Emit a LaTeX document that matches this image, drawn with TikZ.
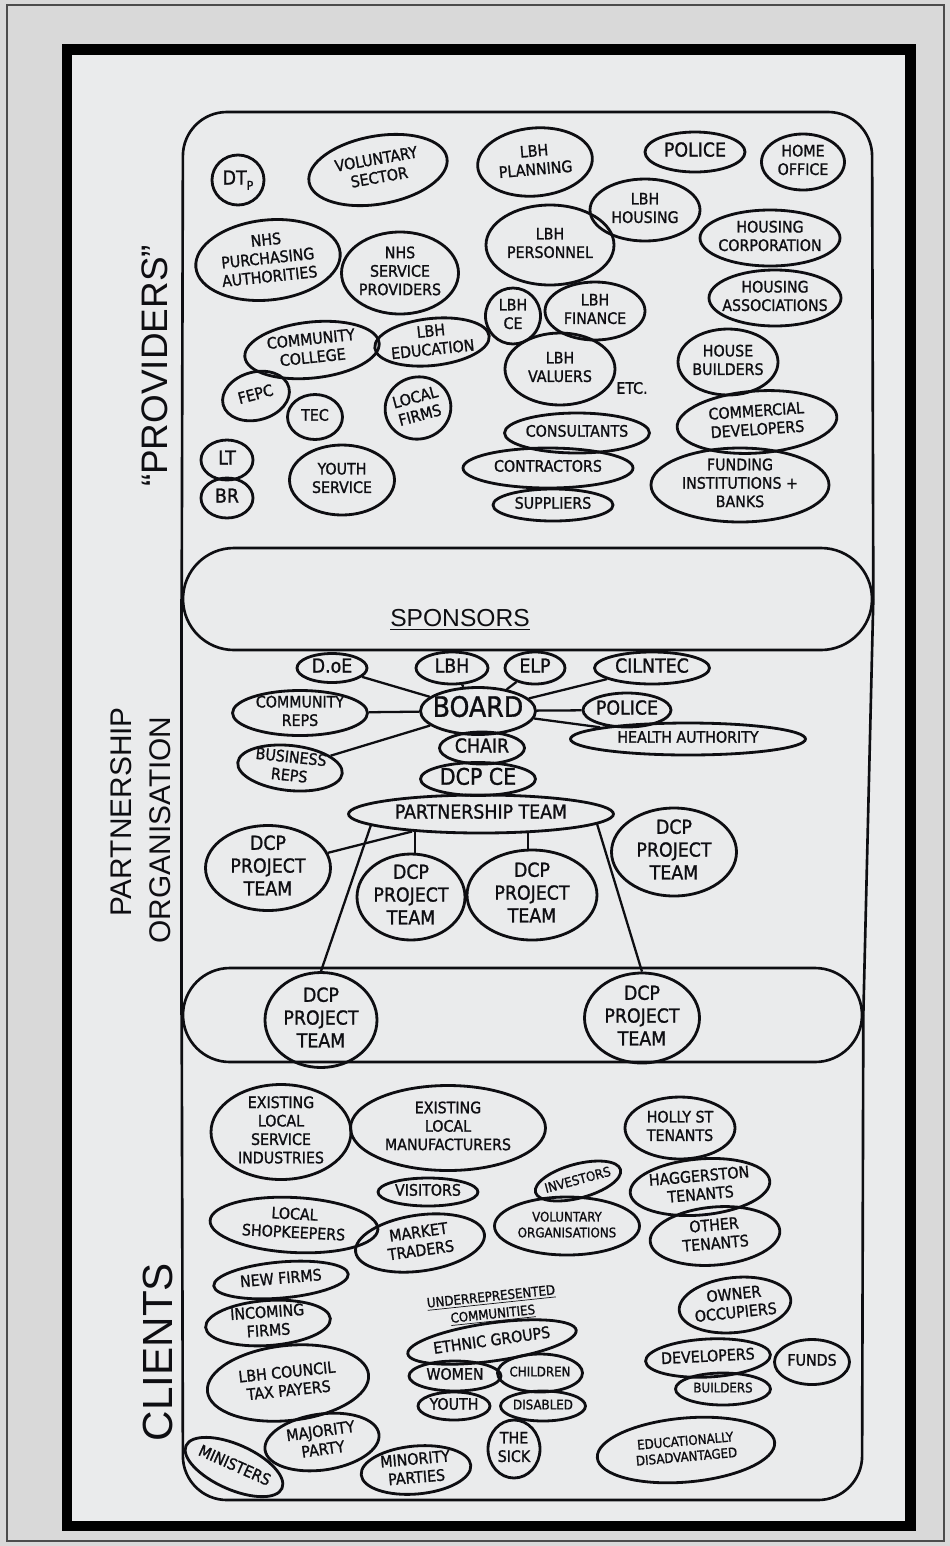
\documentclass[tikz,border=0pt]{standalone}
\usepackage{fontspec}
\setmainfont{Liberation Sans}
\newfontfamily\handfont[FakeBold=1.2]{DejaVu Sans Condensed}
\usetikzlibrary{shapes.geometric,shapes.misc}

\definecolor{paper}{RGB}{234,235,236}
\definecolor{mat}{RGB}{217,217,217}
\definecolor{ink}{RGB}{14,14,18}

% text that does not widen its bubble
\newcommand{\hand}[1]{\smash{\makebox[0pt]{\raisebox{-0.25em}{\begin{tabular}{@{}c@{}}#1\end{tabular}}}}}

\tikzset{
  bub/.style={ellipse, draw=ink, line width=1.6pt, inner sep=0pt, text=ink, font=\handfont\fontsize{9}{10.5}\selectfont},
  sz/.style 2 args={minimum width=#1*0.02cm, minimum height=#2*0.02cm},
  small/.style={font=\handfont\fontsize{7.5}{9}\selectfont},
  mid/.style={font=\handfont\fontsize{11}{13}\selectfont},
  link/.style={draw=ink, line width=1.3pt},
  outline/.style={draw=ink, line width=1.5pt},
  band/.style={rounded rectangle, draw=ink, line width=1.5pt, inner sep=0pt},
  side/.style={rotate=90, text=ink}
}

\begin{document}
\begin{tikzpicture}[x=0.02cm, y=-0.02cm]
\useasboundingbox (0,0) rectangle (950,1546);

% Passe-partout
\fill[mat] (0,0) rectangle (950,1546);
\draw[black!70, line width=0.6pt] (7,5) rectangle (944,1541);
\fill[paper] (67,50) rectangle (910,1526);
\draw[black, line width=6.2pt] (67,49.5) rectangle (910.5,1526);

% Bandas y contornos
\node[band, sz={689}{102}] (sponsors) at (527.5,599) {};
\node[band, sz={679}{94}] (projects) at (522.5,1015) {};
\draw[outline, rounded corners=25pt] (sponsors.west) -- (183,112) -- (872,112) -- (sponsors.east);
\draw[outline] (sponsors.west) -- (projects.west);
\draw[outline] (sponsors.east) -- (projects.east);
\draw[outline, rounded corners=25pt] (projects.west) -- (183,1500) -- (862,1500) -- (projects.east);

% Titulos laterales
\node[side, font=\fontsize{21}{24}\selectfont] (provl) at (155,366) {“PROVIDERS”};
\node[side, font=\fontsize{17}{20}\selectfont] (partl) at (121,812) {PARTNERSHIP};
\node[side, font=\fontsize{17}{20}\selectfont] (orgl) at (160,830) {ORGANISATION};
\node[side, font=\fontsize{24}{28}\selectfont] (clientl) at (158,1352) {CLIENTS};

% Providers
\node[bub, sz={52}{50}, mid] (dtp) at (238,180) {\hand{DT\raisebox{-0.5ex}{\scriptsize P}}};
\node[bub, sz={140}{68}, rotate=10] (volsec) at (378,170) {\hand{VOLUNTARY\\SECTOR}};
\node[bub, sz={115}{68}, rotate=5] (lbhplan) at (535,162) {\hand{LBH\\PLANNING}};
\node[bub, sz={100}{40}, mid] (police) at (695,152) {\hand{POLICE}};
\node[bub, sz={83}{56}] (homeoff) at (803,162) {\hand{HOME\\OFFICE}};
\node[bub, sz={110}{62}] (lbhhous) at (645,210) {\hand{LBH\\HOUSING}};
\node[bub, sz={145}{80}, rotate=6] (nhspa) at (268,260) {\hand{NHS\\PURCHASING\\AUTHORITIES}};
\node[bub, sz={117}{82}] (nhssp) at (400,273) {\hand{NHS\\SERVICE\\PROVIDERS}};
\node[bub, sz={128}{80}] (lbhpers) at (550,245) {\hand{LBH\\PERSONNEL}};
\node[bub, sz={140}{56}] (houscorp) at (770,238) {\hand{HOUSING\\CORPORATION}};
\node[bub, sz={132}{56}] (housass) at (775,298) {\hand{HOUSING\\ASSOCIATIONS}};
\node[bub, sz={55}{56}] (lbhce) at (513,316) {\hand{LBH\\CE}};
\node[bub, sz={100}{58}] (lbhfin) at (595,311) {\hand{LBH\\FINANCE}};
\node[bub, sz={135}{56}, rotate=6] (comcol) at (312,350) {\hand{COMMUNITY\\COLLEGE}};
\node[bub, sz={115}{47}, rotate=6] (lbhedu) at (432,342) {\hand{LBH\\EDUCATION}};
\node[bub, sz={110}{72}] (lbhval) at (560,369) {\hand{LBH\\VALUERS}};
\node[font=\handfont\fontsize{9}{10.5}\selectfont, text=ink] (etc) at (632,388) {ETC.};
\node[bub, sz={100}{66}] (housbuild) at (728,362) {\hand{HOUSE\\BUILDERS}};
\node[bub, sz={68}{48}, rotate=15] (fepc) at (256,396) {\hand{FEPC}};
\node[bub, sz={55}{45}] (tec) at (315,417) {\hand{TEC}};
\node[bub, sz={66}{62}, rotate=15] (locfirms) at (418,408) {\hand{LOCAL\\FIRMS}};
\node[bub, sz={145}{40}] (consult) at (577,433) {\hand{CONSULTANTS}};
\node[bub, sz={160}{62}, rotate=4] (comdev) at (757,422) {\hand{COMMERCIAL\\DEVELOPERS}};
\node[bub, sz={170}{40}] (contract) at (548,468) {\hand{CONTRACTORS}};
\node[bub, sz={178}{74}] (funding) at (740,485) {\hand{FUNDING\\INSTITUTIONS +\\BANKS}};
\node[bub, sz={120}{32}] (suppl) at (553,505) {\hand{SUPPLIERS}};
\node[bub, sz={52}{40}, mid] (lt) at (227,460) {\hand{LT}};
\node[bub, sz={52}{40}, mid] (br) at (227,498) {\hand{BR}};
\node[bub, sz={105}{70}] (youthserv) at (342,480) {\hand{YOUTH\\SERVICE}};

% Partnership
\node[font=\fontsize{14}{16}\selectfont, text=ink] (sponl) at (460,620) {\underline{SPONSORS}};
\node[bub, sz={70}{29}, mid] (doe) at (332,668) {\hand{D.oE}};
\node[bub, sz={72}{32}, mid] (lbh) at (452,668) {\hand{LBH}};
\node[bub, sz={60}{32}, mid] (elp) at (535,668) {\hand{ELP}};
\node[bub, sz={115}{32}, mid] (cilntec) at (652,668) {\hand{CILNTEC}};
\node[bub, sz={135}{45}] (comreps) at (300,713) {\hand{COMMUNITY\\REPS}};
\node[bub, sz={115}{47}, font=\handfont\fontsize{16}{18}\selectfont] (board) at (478,711) {\hand{BOARD}};
\node[bub, sz={88}{34}, mid] (police2) at (627,710) {\hand{POLICE}};
\node[bub, sz={235}{32}] (health) at (688,739) {\hand{HEALTH AUTHORITY}};
\node[bub, sz={85}{32}, mid] (chair) at (482,748) {\hand{CHAIR}};
\node[bub, sz={105}{45}, rotate=-6] (busreps) at (290,768) {\hand{BUSINESS\\REPS}};
\node[bub, sz={115}{33}, font=\handfont\fontsize{13}{15}\selectfont] (dcpce) at (478,779) {\hand{DCP CE}};
\node[bub, sz={265}{38}, mid] (pteam) at (481,814) {\hand{PARTNERSHIP TEAM}};
\node[bub, sz={125}{85}, mid] (dcpa) at (268,868) {\hand{DCP\\PROJECT\\TEAM}};
\node[bub, sz={125}{88}, mid] (dcpb) at (674,852) {\hand{DCP\\PROJECT\\TEAM}};
\node[bub, sz={108}{86}, mid] (dcpc) at (411,897) {\hand{DCP\\PROJECT\\TEAM}};
\node[bub, sz={130}{90}, mid] (dcpd) at (532,895) {\hand{DCP\\PROJECT\\TEAM}};
\node[bub, sz={112}{95}, mid] (dcpe) at (321,1020) {\hand{DCP\\PROJECT\\TEAM}};
\node[bub, sz={115}{90}, mid] (dcpf) at (642,1018) {\hand{DCP\\PROJECT\\TEAM}};

\foreach \n in {doe, lbh, elp, cilntec, comreps, busreps, police2, health}
  \draw[link] (board) -- (\n);
\draw[link] (pteam) -- (dcpa);
\draw[link] (pteam.195) -- (pteam.195 |- dcpc.north);
\draw[link] (pteam.338) -- (pteam.338 |- dcpd.north);
\draw[link] (pteam.186) -- (dcpe.north);
\draw[link] (pteam.355) -- (dcpf.north);

% Clients
\node[bub, sz={140}{95}] (exserv) at (281,1132) {\hand{EXISTING\\LOCAL\\SERVICE\\INDUSTRIES}};
\node[bub, sz={195}{85}] (exman) at (448,1128) {\hand{EXISTING\\LOCAL\\MANUFACTURERS}};
\node[bub, sz={110}{62}] (holly) at (680,1128) {\hand{HOLLY ST\\TENANTS}};
\node[bub, sz={88}{34}, rotate=15, small] (invest) at (578,1181) {\hand{INVESTORS}};
\node[bub, sz={140}{56}, rotate=5] (hagg) at (700,1187) {\hand{HAGGERSTON\\TENANTS}};
\node[bub, sz={100}{28}] (visit) at (428,1192) {\hand{VISITORS}};
\node[bub, sz={168}{55}, rotate=-3] (shopk) at (294,1225) {\hand{LOCAL\\SHOPKEEPERS}};
\node[bub, sz={145}{58}, small] (volorg) at (567,1226) {\hand{VOLUNTARY\\ORGANISATIONS}};
\node[bub, sz={130}{58}, rotate=5] (othert) at (715,1236) {\hand{OTHER\\TENANTS}};
\node[bub, sz={130}{56}, rotate=8] (market) at (420,1243) {\hand{MARKET\\TRADERS}};
\node[bub, sz={135}{36}, rotate=5] (newf) at (281,1280) {\hand{NEW FIRMS}};
\node[font=\handfont\fontsize{7.5}{10}\selectfont, text=ink, rotate=6] (underrep) at (492,1306) {\hand{\underline{UNDERREPRESENTED}\\\underline{COMMUNITIES}}};
\node[bub, sz={112}{55}, rotate=6] (owner) at (735,1305) {\hand{OWNER\\OCCUPIERS}};
\node[bub, sz={125}{45}, rotate=4] (incoming) at (268,1323) {\hand{INCOMING\\FIRMS}};
\node[bub, sz={170}{38}, rotate=8] (ethnic) at (492,1342) {\hand{ETHNIC GROUPS}};
\node[bub, sz={125}{38}, rotate=3] (devs) at (708,1358) {\hand{DEVELOPERS}};
\node[bub, sz={75}{45}] (funds) at (812,1362) {\hand{FUNDS}};
\node[bub, sz={92}{30}] (women) at (455,1376) {\hand{WOMEN}};
\node[bub, sz={85}{38}, small] (child) at (540,1373) {\hand{CHILDREN}};
\node[bub, sz={95}{32}, small] (builders) at (723,1389) {\hand{BUILDERS}};
\node[bub, sz={162}{75}, rotate=6] (taxpay) at (288,1383) {\hand{LBH COUNCIL\\TAX PAYERS}};
\node[bub, sz={72}{28}] (youth) at (454,1406) {\hand{YOUTH}};
\node[bub, sz={85}{30}, small] (disab) at (543,1406) {\hand{DISABLED}};
\node[bub, sz={115}{56}, rotate=8] (major) at (322,1442) {\hand{MAJORITY\\PARTY}};
\node[bub, sz={52}{58}] (sick) at (514,1449) {\hand{THE\\SICK}};
\node[bub, sz={178}{64}, rotate=5, small] (edudis) at (686,1450) {\hand{EDUCATIONALLY\\DISADVANTAGED}};
\node[bub, sz={110}{48}, rotate=5] (minor) at (416,1470) {\hand{MINORITY\\PARTIES}};
\node[bub, sz={105}{45}, rotate=-24] (minist) at (234,1467) {\hand{MINISTERS}};

\end{tikzpicture}
\end{document}
